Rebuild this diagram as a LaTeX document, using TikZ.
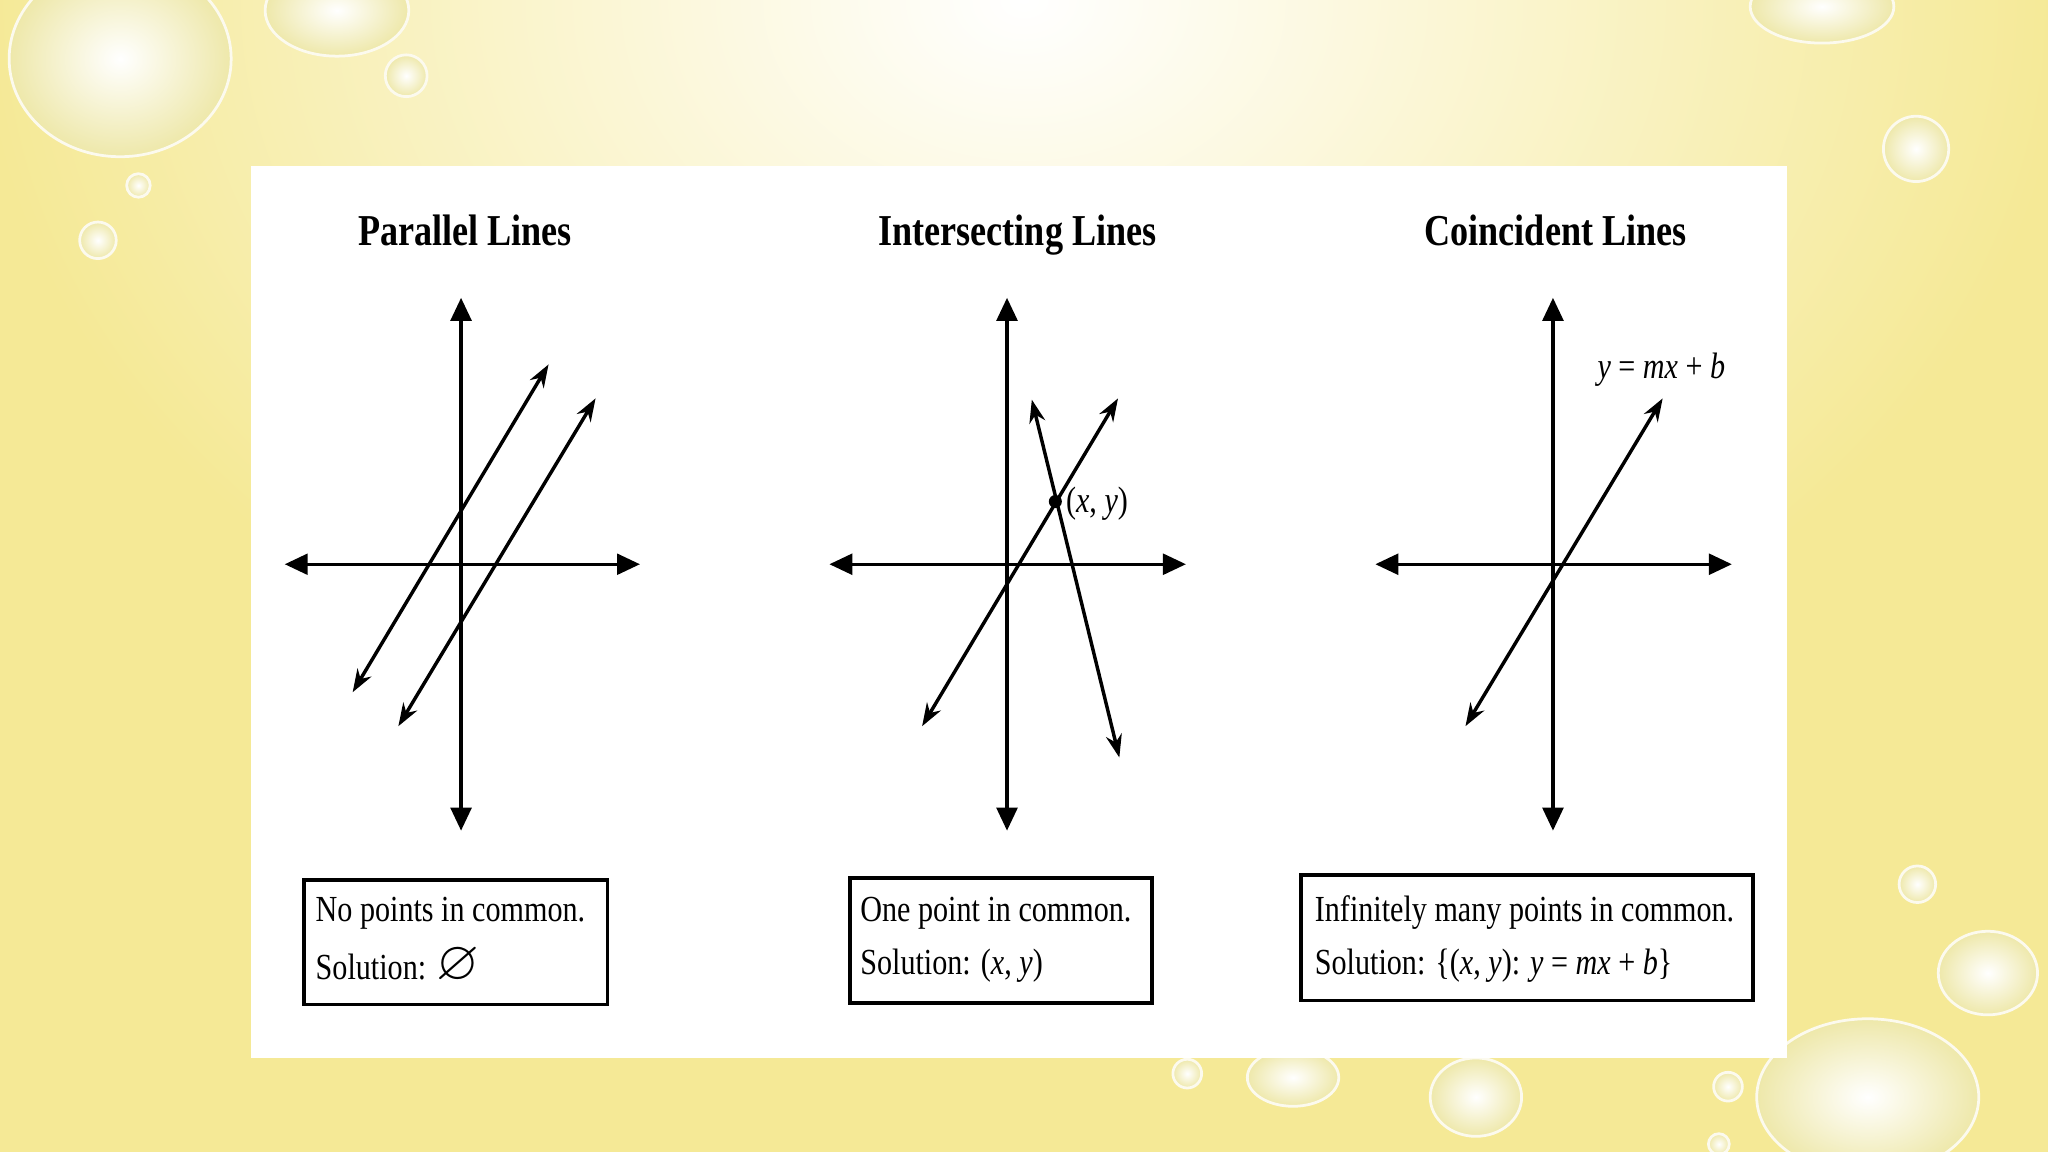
\documentclass[tikz,border=0pt]{standalone}
\usepackage{fontspec}
\setmainfont[FakeStretch=0.82]{Liberation Serif}
\usepackage{amssymb}
\usetikzlibrary{arrows.meta,shadows}
\definecolor{bgy}{RGB}{245,233,150}
\definecolor{drop}{RGB}{238,232,170}
\tikzset{
 ax/.style={line width=0.75pt,{Triangle[length=5pt,width=4.5pt]}-{Triangle[length=5pt,width=4.5pt]}},
 ln/.style={line width=0.75pt,{Stealth[length=5pt,width=3.5pt]}-{Stealth[length=5pt,width=3.5pt]}},
 ttl/.style={font=\bfseries\fontsize{9.6}{12}\selectfont,anchor=base},
 lbl/.style={font=\fontsize{8}{10}\selectfont},
 sbox/.style={draw,line width=0.8pt,fill=white,drop shadow={shadow xshift=0.4pt,shadow yshift=-0.4pt,opacity=0.4}},
 dropc/.style={inner color=white,outer color=drop,draw=white!80!drop,line width=0.6pt}
}
\begin{document}
\begin{tikzpicture}[x=0.01cm,y=-0.01cm]
\useasboundingbox (0,0) rectangle (1568,882);
\fill[bgy] (0,0) rectangle (1568,882);
\shade[inner color=white,outer color=bgy] (784,0) ellipse [x radius=800,y radius=600];
% drops
\shade[dropc] (92,45) ellipse [x radius=85,y radius=75];
\shade[dropc] (258,8) ellipse [x radius=55,y radius=35];
\shade[dropc] (311,58) circle (16);
\shade[dropc] (106,142) circle (9);
\shade[dropc] (75,184) circle (14);
\shade[dropc] (1395,5) ellipse [x radius=55,y radius=28];
\shade[dropc] (1467,114) circle (25);
\shade[dropc] (1468,677) circle (14);
\shade[dropc] (1522,745) ellipse [x radius=38,y radius=32];
\shade[dropc] (1430,840) ellipse [x radius=85,y radius=60];
\shade[dropc] (1323,832) circle (11);
\shade[dropc] (1130,840) ellipse [x radius=35,y radius=30];
\shade[dropc] (990,825) ellipse [x radius=35,y radius=22];
\shade[dropc] (909,822) circle (11);
\shade[dropc] (1316,876) circle (8);
% panel
\fill[white] (192,127) rectangle (1368,810);
% titles
\node[ttl] (t1) at (356,188) {Parallel Lines};
\node[ttl] (t2) at (779,188) {Intersecting Lines};
\node[ttl] (t3) at (1191,188) {Coincident Lines};
% panel 1
\coordinate (h1a) at (218,432); \coordinate (h1b) at (490,432);
\coordinate (v1a) at (353,228); \coordinate (v1b) at (353,636);
\draw[ax] (h1a) -- (h1b); \draw[ax] (v1a) -- (v1b);
\coordinate (p1a) at (270,530); \coordinate (p1b) at (420,279);
\coordinate (p2a) at (305,556); \coordinate (p2b) at (456,305);
\draw[ln] (p1a) -- (p1b); \draw[ln] (p2a) -- (p2b);
% panel 2
\coordinate (h2a) at (635,432); \coordinate (h2b) at (908,432);
\coordinate (v2a) at (771,228); \coordinate (v2b) at (771,636);
\draw[ax] (h2a) -- (h2b); \draw[ax] (v2a) -- (v2b);
\coordinate (q1a) at (706,556); \coordinate (q1b) at (856,305);
\coordinate (q2a) at (790,306); \coordinate (q2b) at (857,580);
\draw[ln] (q1a) -- (q1b); \draw[ln] (q2a) -- (q2b);
\fill (808,384) circle (5);
\node[lbl,anchor=west,inner sep=1pt] (xy) at (812,386) {(\textit{x}, \textit{y})};
% panel 3
\coordinate (h3a) at (1053,432); \coordinate (h3b) at (1326,432);
\coordinate (v3a) at (1189,228); \coordinate (v3b) at (1189,636);
\draw[ax] (h3a) -- (h3b); \draw[ax] (v3a) -- (v3b);
\coordinate (r1a) at (1122,556); \coordinate (r1b) at (1273,305);
\draw[ln] (r1a) -- (r1b);
\node[lbl] (eq) at (1272,283) {\textit{y} = \textit{mx} + \textit{b}};
% boxes
\draw[sbox] (233,674) rectangle (465,769);
\draw[sbox] (651,672) rectangle (882,768);
\draw[sbox] (996,670) rectangle (1342,766);
\node[lbl,anchor=west,inner sep=0pt] (b1a) at (241,699) {No points in common.};
\node[lbl,anchor=west,inner sep=0pt] (b1b) at (241,739) {Solution: {\fontsize{12}{12}\selectfont$\varnothing$}};
\node[lbl,anchor=west,inner sep=0pt] (b2a) at (658,699) {One point in common.};
\node[lbl,anchor=west,inner sep=0pt] (b2b) at (658,739) {Solution: (\textit{x}, \textit{y})};
\node[lbl,anchor=west,inner sep=0pt] (b3a) at (1006,699) {Infinitely many points in common.};
\node[lbl,anchor=west,inner sep=0pt] (b3b) at (1006,739) {Solution: \{(\textit{x}, \textit{y}): \textit{y} = \textit{mx} + \textit{b}\}};
\end{tikzpicture}
\end{document}
